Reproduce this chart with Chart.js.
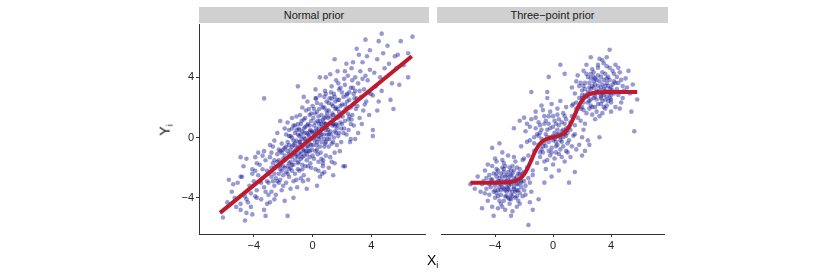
<!DOCTYPE html>
<html>
<head>
<meta charset="utf-8">
<script src="https://cdn.jsdelivr.net/npm/chart.js@4.4.0/dist/chart.umd.min.js"></script>
<style>
  body { margin: 0; background: #fff; width: 830px; height: 277px; position: relative; overflow: hidden;
         font-family: "Liberation Sans", Arial, sans-serif; }
  canvas { position: absolute; }
  .strip { position: absolute; top: 7px; height: 16px; line-height: 16px; background: #d0d0d0;
           color: #1a1a1a; font-size: 11px; text-align: center; }
  .atitle { position: absolute; font-size: 14px; color: #000; white-space: nowrap; }
  .atitle sub { font-size: 9px; vertical-align: -3px; }
</style>
</head>
<body>
<div class="strip" id="strip0" style="left:199px;width:230px"></div>
<div class="strip" id="strip1" style="left:437px;width:231px"></div>
<canvas id="normal" width="270" height="248" style="left:159px;top:16px"></canvas>
<canvas id="three" width="231" height="248" style="left:437px;top:16px"></canvas>
<div class="atitle" style="left:160px;top:121px;transform:rotate(-90deg)">Y<sub>i</sub></div>
<div class="atitle" style="left:427px;top:252px">X<sub>i</sub></div>
<script>
// panel titles and ticks
const panelTitles = ["Normal prior", "Three\u2212point prior"]
const xTicks = [-4, 0, 4]
const yTicks = [-4, 0, 4]

// Normal prior: points [X_i, Y_i]
const normalPts = [
  [-5.2,-4.6],[-5.8,-4.3],[-5.1,-3.0],[-6.1,-5.3],[-5.3,-4.0],[-5.7,-2.8],[-5.5,-3.6],[-5.4,-3.1],
  [-4.8,-2.6],[-4.6,-3.9],[-4.3,-3.2],[-4.9,-4.4],[-4.1,-2.1],[-4.5,-5.0],[-4.2,-3.7],[-4.7,-1.9],[-4.4,-4.3],[-4.0,-2.9],
  [-4.6,-5.5],[-4.9,-4.8],[-4.2,-4.6],[-4.1,-5.1],[-4.9,-1.3],[-4.5,-1.4],[-4.9,-2.6],[-4.5,-4.1],[-4.1,-2.4],
  [-3.9,-2.2],[-3.8,-3.5],[-3.6,-1.8],[-3.5,-4.1],[-3.4,-2.7],[-3.3,-3.3],[-3.2,-1.5],[-3.1,-2.9],[-3.0,-3.8],[-3.7,-2.5],
  [-3.5,-3.0],[-3.3,-0.9],[-3.1,-2.2],[-3.9,-3.9],[-3.6,-2.9],[-3.4,-1.2],[-3.2,-3.6],[-3.0,-2.4],[-3.8,-1.7],[-3.1,-4.4],
  [-3.7,-1.0],[-3.9,-1.3],[-3.8,-4.0],[-3.3,-4.8],[-3.2,-5.2],[-3.3,2.6],
  [-2.9,-1.3],[-2.8,-2.6],[-2.7,-0.6],[-2.6,-3.2],[-2.5,-1.9],[-2.4,-2.9],[-2.3,-0.8],[-2.2,-2.1],[-2.1,-3.5],[-2.0,-1.4],
  [-2.9,-2.3],[-2.8,-3.6],[-2.7,-1.7],[-2.6,-0.2],[-2.5,-2.7],[-2.4,-1.1],[-2.3,-3.0],[-2.2,-1.8],[-2.1,-0.4],[-2.0,-2.5],
  [-2.9,-0.5],[-2.7,-2.9],[-2.5,-3.8],[-2.3,-1.5],[-2.1,-2.2],[-2.8,-1.0],[-2.6,-2.0],[-2.4,0.3],[-2.2,-2.8],[-2.0,-3.2],
  [-2.6,-1.5],[-2.3,-2.4],[-2.1,-1.0],[-2.9,-4.3],[-2.6,-4.1],[-2.2,1.1],
  [-1.9,-0.7],[-1.9,-2.0],[-1.8,0.2],[-1.8,-1.4],[-1.8,-3.0],[-1.7,-0.3],[-1.7,-1.9],[-1.7,1.0],[-1.6,-1.1],[-1.6,-2.6],
  [-1.6,0.5],[-1.5,-0.8],[-1.5,-1.6],[-1.5,-3.4],[-1.4,0.0],[-1.4,-1.3],[-1.4,-2.2],[-1.3,0.8],[-1.3,-0.5],[-1.3,-1.8],
  [-1.3,-2.9],[-1.2,-0.9],[-1.2,0.3],[-1.2,-2.4],[-1.1,-1.2],[-1.1,1.4],[-1.1,-0.2],[-1.0,-1.7],[-1.0,-0.6],[-1.0,0.9],
  [-1.9,-1.2],[-1.8,-2.3],[-1.7,-0.9],[-1.6,0.1],[-1.5,-2.0],[-1.4,-0.6],[-1.3,-1.0],[-1.2,-1.5],[-1.1,-2.8],[-1.0,0.2],
  [-1.9,0.6],[-1.6,-1.7],[-1.4,1.3],[-1.2,-0.4],[-1.05,-3.3],[-1.7,-5.2],[-1.9,-4.2],[-1.3,-4.0],[-1.0,3.4],
  [-0.95,0.6],[-0.9,-1.0],[-0.9,0.1],[-0.9,-2.2],[-0.85,1.5],[-0.8,-0.5],[-0.8,-1.4],[-0.8,0.9],[-0.75,-0.1],[-0.7,-1.8],
  [-0.7,0.4],[-0.7,2.0],[-0.65,-0.8],[-0.6,-2.5],[-0.6,0.0],[-0.6,1.2],[-0.55,-1.2],[-0.5,-0.3],[-0.5,0.7],[-0.5,-1.9],
  [-0.45,1.8],[-0.4,-0.6],[-0.4,0.3],[-0.4,-1.5],[-0.35,2.4],[-0.3,-0.9],[-0.3,0.9],[-0.3,-2.8],[-0.25,0.1],[-0.2,-1.3],
  [-0.2,1.5],[-0.2,-0.4],[-0.15,0.5],[-0.1,-2.0],[-0.1,-0.1],[-0.1,1.1],[-0.05,-0.8],[0.0,2.1],[-0.95,-1.6],[-0.85,-0.3],
  [-0.75,1.1],[-0.65,-2.9],[-0.55,0.3],[-0.45,-0.9],[-0.35,-0.2],[-0.25,1.9],[-0.15,-1.7],[-0.05,0.4],[-0.6,2.7],[-0.4,-3.4],
  [-0.2,0.8],[-0.8,-2.7],
  [0.05,-0.5],[0.1,0.8],[0.1,-1.4],[0.15,1.6],[0.2,0.1],[0.2,-2.1],[0.25,0.6],[0.3,2.3],[0.3,-0.8],[0.35,1.1],
  [0.4,-0.1],[0.4,-1.6],[0.45,0.9],[0.5,2.8],[0.5,0.3],[0.55,-1.0],[0.6,1.5],[0.6,-0.3],[0.65,0.7],[0.7,2.0],
  [0.7,-1.9],[0.75,0.2],[0.8,1.3],[0.8,-0.6],[0.85,3.1],[0.9,0.5],[0.9,-1.2],[0.95,1.8],[1.0,-0.1],[0.05,1.3],
  [0.15,-0.2],[0.25,2.6],[0.35,-1.1],[0.45,1.9],[0.55,0.0],[0.65,-2.4],[0.75,1.0],[0.85,-0.4],[0.95,2.4],[0.12,0.4],
  [0.28,-0.5],[0.42,0.6],[0.58,2.2],[0.72,-1.5],[0.88,0.9],[0.98,0.2],[0.2,3.2],[0.5,-2.6],[0.8,2.7],[0.3,1.7],
  [0.6,0.9],[0.9,1.4],[0.3,-3.2],[0.4,-2.2],[0.8,-2.3],[0.7,-1.7],[0.5,4.0],[0.9,4.0],
  [1.05,0.5],[1.1,1.8],[1.1,-0.6],[1.15,2.6],[1.2,1.0],[1.2,-1.3],[1.25,0.2],[1.3,2.2],[1.3,3.4],[1.35,0.8],
  [1.4,-0.3],[1.4,1.5],[1.45,2.9],[1.5,0.4],[1.5,-1.0],[1.55,1.9],[1.6,0.9],[1.6,3.8],[1.65,-0.5],[1.7,1.3],
  [1.7,2.5],[1.75,0.1],[1.8,1.7],[1.8,3.2],[1.85,-0.9],[1.9,1.0],[1.9,2.1],[1.95,0.6],[2.0,3.0],[1.05,1.3],
  [1.15,-0.1],[1.25,3.0],[1.35,1.6],[1.45,0.0],[1.55,2.4],[1.65,0.6],[1.75,3.6],[1.85,1.4],[1.95,-0.3],[1.2,4.2],
  [1.4,0.9],[1.6,2.0],[1.8,0.3],[1.3,-1.6],[1.7,4.4],[1.1,-2.0],[1.4,-2.5],[1.5,-1.7],[1.5,5.2],
  [2.05,1.4],[2.1,2.7],[2.15,0.6],[2.2,3.5],[2.25,1.9],[2.3,0.2],[2.35,2.4],[2.4,4.1],[2.45,1.2],[2.5,3.0],
  [2.55,-0.3],[2.6,2.0],[2.65,4.6],[2.7,1.5],[2.75,3.3],[2.8,0.8],[2.85,2.6],[2.9,4.0],[2.95,1.9],[2.1,0.3],
  [2.2,2.2],[2.3,4.9],[2.4,1.6],[2.5,2.5],[2.6,0.9],[2.7,3.8],[2.8,2.2],[2.9,3.1],[2.15,3.9],[2.45,0.5],
  [2.75,5.0],[2.35,2.9],[2.65,1.2],[2.1,-1.9],[2.2,-1.9],[2.6,-0.1],[2.9,-0.1],[3.0,5.9],
  [3.05,2.1],[3.1,3.6],[3.2,1.3],[3.25,4.4],[3.3,2.7],[3.4,5.0],[3.45,1.8],[3.5,3.2],[3.6,4.1],[3.65,2.4],
  [3.7,5.4],[3.8,3.0],[3.85,1.5],[3.9,4.5],[3.95,2.9],[3.15,5.5],[3.35,0.9],[3.55,2.2],[3.75,3.8],[3.9,5.8],
  [3.1,0.3],[3.6,6.5],
  [4.1,2.8],[4.2,4.3],[4.3,3.4],[4.4,5.2],[4.5,2.4],[4.6,4.0],[4.7,3.1],[4.8,5.6],[4.9,4.6],[4.4,1.8],
  [4.1,0.5],[4.1,0.1],[4.7,6.9],[4.5,6.4],
  [5.2,4.9],[5.4,3.6],[5.6,5.4],[5.1,6.1],[6.2,4.8],[5.5,1.9],[5.9,3.5],[6.5,4.0],[6.0,6.4],[6.8,6.7],
  [5.8,5.5],[6.5,5.6],[5.3,2.5],[5.7,4.6],
  [-2.4,-1.6],[-2.2,-0.9],[-2.0,-1.9],[-1.9,-1.5],[-1.8,-0.6],[-1.7,-2.4],[-1.6,-0.5],[-1.5,-1.2],[-1.5,0.1],[-1.4,-1.8],
  [-1.3,-0.2],[-1.2,-1.1],[-1.2,0.8],[-1.1,-0.7],[-1.0,-1.3],[-1.0,-2.1],[-0.9,-0.3],[-0.9,0.5],[-0.8,-1.1],[-0.8,0.2],
  [-0.7,-0.6],[-0.7,-1.3],[-0.6,0.6],[-0.6,-0.9],[-0.5,-0.1],[-0.5,1.3],[-0.4,-1.1],[-0.4,0.8],[-0.3,0.2],[-0.3,-0.6],
  [-0.2,-0.9],[-0.2,0.4],[-0.1,1.6],[-0.1,-0.5],[0.0,0.3],[0.0,-1.2],[0.1,0.0],[0.1,1.9],[0.2,-0.9],[0.2,1.0],
  [0.3,0.4],[0.3,-0.3],[0.4,1.4],[0.4,0.1],[0.5,-0.6],[0.5,1.1],[0.6,0.2],[0.6,-1.4],[0.7,1.2],[0.7,0.6],
  [0.8,-0.1],[0.8,2.0],[0.9,0.9],[0.9,-0.3],[1.0,1.6],[1.0,0.7],[1.1,0.2],[1.1,2.3],[1.2,1.4],[1.2,0.4],
  [1.3,1.0],[1.3,-0.4],[1.4,2.1],[1.4,1.2],[1.5,0.8],[1.5,2.7],[1.6,1.4],[1.6,0.3],[1.7,1.9],[1.7,0.8],
  [1.8,2.5],[1.9,1.5],[2.0,0.9],[2.0,2.2],[2.1,1.7],[2.2,1.1],[2.3,2.8],[2.4,2.0],[2.5,1.4],[2.6,3.3],
  [-2.6,-2.4],[-2.8,-2.0],[-3.0,-3.0],[-2.3,-1.9],[-3.4,-2.1],[-1.1,0.5],[0.2,2.6],[0.9,2.9],[2.8,2.9],[3.0,2.6],
  [-0.3,-1.9],[-0.7,-2.1],[-1.6,-2.1],[1.3,2.6],[1.9,3.3],[3.2,3.1],[3.4,3.9],[2.2,4.4],[-2.0,-0.8],[-1.4,0.6]
]

// Three-point prior: points [X_i, Y_i]
const threePts = [
  [-3.1,-2.8],[-2.4,-3.5],[-3.8,-2.2],[-2.9,-4.1],[-3.5,-3.3],[-2.2,-2.6],[-4.1,-3.0],[-3.3,-1.9],[-2.7,-3.0],[-3.6,-4.4],
  [-1.9,-3.2],[-4.4,-2.5],[-3.0,-2.0],[-2.5,-4.6],[-3.9,-3.7],[-2.8,-2.4],[-3.4,-2.9],[-2.1,-3.9],[-4.6,-3.4],[-3.2,-3.6],
  [-2.6,-1.6],[-3.7,-2.7],[-4.0,-4.0],[-2.3,-2.1],[-3.05,-3.2],[-1.7,-2.7],[-4.8,-2.9],[-3.5,-1.5],[-2.9,-3.8],[-3.3,-4.8],
  [-2.0,-2.3],[-4.2,-1.9],[-3.6,-3.1],[-2.7,-2.7],[-3.1,-1.2],[-2.4,-4.2],[-4.5,-4.2],[-3.8,-3.5],[-2.2,-3.3],[-3.4,-2.3],
  [-1.5,-3.6],[-4.3,-2.8],[-2.8,-1.9],[-3.0,-4.4],[-3.9,-1.6],[-2.5,-3.1],[-5.0,-3.6],[-3.2,-2.5],[-2.6,-4.0],[-4.0,-3.2],
  [-1.8,-2.0],[-3.7,-4.2],[-2.9,-2.2],[-3.5,-2.6],[-2.3,-3.7],[-4.7,-2.2],[-3.0,-3.5],[-2.1,-1.5],[-3.6,-3.8],[-4.1,-2.4],
  [-2.7,-3.4],[-3.3,-3.0],[-1.6,-4.3],[-4.4,-3.8],[-2.4,-2.4],[-3.8,-2.9],[-3.1,-4.0],[-2.0,-2.9],[-4.9,-3.1],[-3.4,-1.7],
  [-2.8,-4.9],[-3.9,-2.1],[-2.5,-2.0],[-3.2,-3.3],[-4.2,-4.6],[-2.2,-3.0],[-3.6,-2.4],[-1.4,-2.5],[-4.6,-2.7],[-2.9,-3.1],
  [-3.5,-4.6],[-2.6,-2.8],[-4.0,-1.4],[-3.0,-2.6],[-2.3,-4.4],[-3.7,-3.3],[-5.2,-2.6],[-2.7,-1.3],[-3.3,-3.9],[-4.3,-3.3],
  [-2.1,-2.4],[-3.1,-3.4],[-3.8,-4.7],[-2.5,-3.5],[-4.5,-1.8],[-1.9,-3.8],[-3.4,-2.1],[-2.8,-3.6],[-3.9,-3.0],[-5.4,-3.4],
  [-5.7,-3.1],[-4.9,-4.7],[-4.1,-5.2],[-2.9,-5.2],[-1.7,-5.8],[-3.7,-0.4],[-4.2,-0.7],[-1.4,-4.8],[-1.0,-4.1],[-0.6,-3.0],
  [-3.0,-3.0],[-3.3,-2.6],[-2.7,-3.3],[-3.6,-2.9],[-2.5,-2.6],[-3.2,-3.9],[-3.9,-2.6],[-2.9,-2.5],[-3.4,-3.4],[-2.4,-3.1],
  [-3.7,-3.0],[-2.8,-3.9],[-3.1,-2.3],[-4.0,-3.5],[-2.6,-3.6],[-3.5,-2.0],[-2.2,-2.9],[-3.3,-3.5],[-4.2,-2.8],[-2.9,-2.9],
  [-3.8,-3.9],[-2.3,-2.4],[-3.6,-3.5],[-3.0,-4.1],[-4.4,-3.1],[-2.7,-2.2],[-3.2,-2.9],[-3.9,-2.4],[-2.5,-3.9],[-3.4,-4.2],
  [-4.7,-3.7],[-2.0,-3.5],[-4.1,-3.6],[-1.6,-3.0],[-3.5,-1.0],
  [0.1,0.3],[-0.6,-0.4],[0.8,0.9],[-1.2,0.6],[0.4,-1.1],[-0.3,1.4],[1.1,-0.2],[-0.9,-1.3],[0.6,0.4],[-0.1,-0.7],
  [1.5,0.8],[-1.6,-0.2],[0.3,1.9],[-0.5,0.2],[0.9,-0.9],[-1.0,1.0],[0.0,-1.8],[1.3,1.4],[-0.8,-0.8],[0.5,0.0],
  [-1.9,0.4],[0.2,-0.3],[1.8,-0.5],[-0.4,-1.5],[0.7,1.6],[-1.3,-0.9],[0.0,0.7],[1.0,0.3],[-0.7,1.8],[0.4,-2.2],
  [-0.2,0.0],[1.6,1.9],[-1.1,-1.7],[0.9,1.2],[-0.6,0.9],[0.2,-1.0],[2.1,0.5],[-1.5,1.2],[0.5,2.4],[-0.3,-0.3],
  [1.2,-1.3],[-0.9,0.3],[0.1,1.1],[-2.2,-0.6],[0.7,-0.6],[-0.5,-2.1],[1.4,0.1],[-1.3,0.0],[0.3,0.5],[-0.1,2.2],
  [0.8,-1.6],[-0.8,-0.1],[1.9,1.1],[-1.7,-1.2],[0.6,1.0],[-0.4,0.5],[1.1,0.7],[-0.2,-1.2],[0.0,0.1],[-1.0,-0.5],
  [2.4,-0.2],[-0.6,1.4],[0.4,0.8],[-1.4,-2.2],[1.0,-0.4],[-0.3,0.9],[0.2,-0.6],[-2.0,1.3],[1.3,2.1],[-0.7,-1.0],
  [0.5,-0.2],[-1.2,1.7],[0.8,0.2],[-0.1,-2.6],[1.6,-0.8],[-0.9,0.8],[0.3,1.5],[-1.8,-0.3],[0.9,0.6],[-0.5,-0.6],
  [0.1,-0.1],[1.2,1.0],[-0.2,1.7],[-1.1,0.2],[0.6,-1.3],[2.0,0.0],[-0.8,2.1],[0.4,0.2],[-1.5,-1.5],[0.7,0.5],
  [-1.5,3.0],[-0.4,3.0],[-0.3,4.0],[-2.3,1.1],[-2.7,0.6],[2.5,-0.5],[2.2,-0.9],[2.0,-1.2],[1.5,-2.3],[1.1,-3.0],
  [0.0,-0.2],[0.3,0.2],[-0.4,0.0],[0.6,-0.3],[-0.2,0.6],[0.9,0.1],[-0.7,-0.6],[0.2,0.9],[-1.0,0.1],[0.5,-0.8],
  [-0.5,1.1],[1.2,0.5],[-0.1,-1.0],[0.8,1.4],[-1.3,-0.4],[0.1,-1.4],[1.5,0.2],[-0.8,0.5],[0.4,1.2],[-0.3,-0.9],
  [1.0,-1.0],[-1.6,0.7],[0.7,0.0],[-0.6,-1.6],[1.7,1.3],[-1.2,1.3],[0.3,-0.5],[-0.9,-1.0],[1.3,-0.6],[0.0,1.4],
  [-1.8,0.9],[2.2,0.9],[-2.0,-1.4],[0.9,2.0],[-0.4,2.6],
  [3.2,3.1],[2.5,2.4],[3.9,3.8],[2.8,4.3],[3.6,2.5],[2.1,3.4],[4.2,2.9],[3.0,1.7],[2.6,3.9],[3.7,4.7],
  [1.8,2.6],[4.5,3.6],[3.3,2.2],[2.3,4.8],[4.0,3.3],[2.9,2.9],[3.5,3.8],[2.0,2.0],[4.7,2.3],[3.1,4.1],
  [2.7,1.5],[3.8,3.0],[4.1,4.4],[2.4,3.0],[3.4,3.5],[1.6,3.7],[4.9,3.1],[3.6,1.9],[2.8,3.3],[3.2,5.2],
  [2.2,2.8],[4.3,2.0],[3.7,3.6],[2.6,2.1],[3.0,3.8],[2.3,1.6],[4.4,4.0],[3.9,2.6],[2.1,4.4],[3.3,2.7],
  [1.5,2.9],[4.6,3.0],[2.9,2.0],[3.1,4.6],[4.0,1.7],[2.5,3.6],[5.0,3.9],[3.4,2.4],[2.7,4.5],[3.8,3.4],
  [1.9,1.9],[3.6,4.2],[2.8,3.7],[3.5,2.8],[2.4,2.3],[4.8,2.6],[3.0,3.1],[2.0,3.1],[3.7,2.1],[4.2,3.7],
  [2.6,3.2],[3.3,4.0],[1.7,4.1],[4.5,4.6],[2.3,2.7],[3.9,3.2],[3.2,1.4],[2.1,2.3],[5.1,3.3],[3.5,4.9],
  [2.9,1.2],[4.0,2.8],[2.5,1.9],[3.1,3.4],[4.3,4.8],[2.2,3.6],[3.7,2.7],[1.3,3.3],[4.7,3.8],[2.8,2.6],
  [3.4,1.6],[2.7,2.9],[4.1,3.5],[3.0,2.5],[2.4,4.0],[3.8,4.0],[5.3,2.9],[2.6,4.2],[3.2,2.9],[4.4,3.2],
  [2.0,2.6],[3.6,3.1],[3.9,4.6],[2.5,2.9],[4.6,1.9],[1.8,3.4],[3.3,3.3],[2.9,3.5],[4.0,2.3],[5.5,3.5],
  [3.9,5.8],[0.5,4.8],[0.8,4.2],[5.2,4.4],[5.8,2.5],[5.4,1.7],[2.6,5.3],[3.4,5.1],[3.7,5.3],[5.6,0.4],
  [3.2,0.0],
  [3.0,3.0],[2.7,3.4],[3.3,2.6],[2.4,2.7],[3.6,3.4],[2.9,3.9],[3.9,2.9],[2.6,2.5],[3.4,4.3],[2.2,3.2],
  [4.1,3.1],[3.1,2.2],[2.8,4.0],[3.7,3.9],[2.0,2.8],[4.3,3.6],[3.5,2.0],[2.5,3.3],[3.2,3.7],[4.0,2.5],
  [2.3,4.2],[3.8,2.4],[4.5,2.8],[1.9,3.6],[3.1,4.8],[2.7,2.0],[4.2,4.2],[3.5,3.2],[1.6,2.3],[4.8,3.4],
  [2.9,2.7],[3.4,2.9],[2.1,1.8],[4.6,4.3],[1.4,2.2]
]

// fitted lines (posterior mean)
const normalLine = [[-6.3, -5.0], [6.75, 5.4]]
const threeLineX = [-5.7, -5, -4, -3.5, -3, -2.5, -2.25, -2, -1.75, -1.5, -1.25, -1, -0.75, -0.5, -0.25, 0,
                    0.25, 0.5, 0.75, 1, 1.25, 1.5, 1.75, 2, 2.25, 2.5, 3, 3.5, 4, 5, 5.8]
const threeLineY = [-3.0, -3.0, -3.0, -2.99, -2.97, -2.86, -2.71, -2.45, -2.04, -1.5, -0.96, -0.55, -0.28, -0.14, -0.05, 0,
                    0.05, 0.14, 0.28, 0.55, 0.96, 1.5, 2.04, 2.45, 2.71, 2.86, 2.97, 2.99, 3.0, 3.0, 3.0]

const dotColor = "rgba(0, 0, 139, 0.4)"
const lineColor = "#bd1a2e"
const fontFamily = "'Liberation Sans', Arial, sans-serif"

document.getElementById("strip0").textContent = panelTitles[0]
document.getElementById("strip1").textContent = panelTitles[1]

function fmt(v) {
  return v < 0 ? "\u2212" + Math.abs(v) : String(v)
}

function makePanel(id, pts, line, showY) {
  const axisTicks = {
    color: "#222",
    font: { family: fontFamily, size: 11 },
    padding: 2,
    autoSkip: false,
    maxRotation: 0,
    callback: (v) => fmt(v),
  }
  const grid = { drawOnChartArea: false, drawTicks: true, tickLength: 3, color: "#333", lineWidth: 1 }
  return new Chart(document.getElementById(id), {
    type: "scatter",
    data: {
      datasets: [
        {
          data: line,
          showLine: true,
          pointRadius: 0,
          borderColor: lineColor,
          borderWidth: 4,
          cubicInterpolationMode: "monotone",
          order: 0,
        },
        {
          data: pts,
          pointRadius: 2.3,
          pointBackgroundColor: dotColor,
          pointBorderWidth: 0,
          order: 1,
        },
      ],
    },
    options: {
      responsive: false,
      animation: false,
      devicePixelRatio: 1,
      layout: { padding: { top: 8, left: 0, right: 0, bottom: 0 } },
      plugins: { legend: { display: false }, tooltip: { enabled: false } },
      scales: {
        x: {
          type: "linear",
          min: -7.73,
          max: 7.65,
          afterBuildTicks: (s) => { s.ticks = xTicks.map((v) => ({ value: v })) },
          afterFit: (s) => { s.height = 30 },
          ticks: axisTicks,
          grid: grid,
          border: { display: true, color: "#333", width: 1 },
        },
        y: {
          type: "linear",
          display: showY,
          min: -6.4,
          max: 7.5,
          afterBuildTicks: (s) => { s.ticks = yTicks.map((v) => ({ value: v })) },
          afterFit: (s) => { s.width = showY ? 40 : 0 },
          ticks: axisTicks,
          grid: grid,
          border: { display: true, color: "#333", width: 1 },
        },
      },
    },
  })
}

makePanel("normal", normalPts, normalLine, true)
makePanel("three", threePts, threeLineX.map((x, i) => [x, threeLineY[i]]), false)
</script>
</body>
</html>
